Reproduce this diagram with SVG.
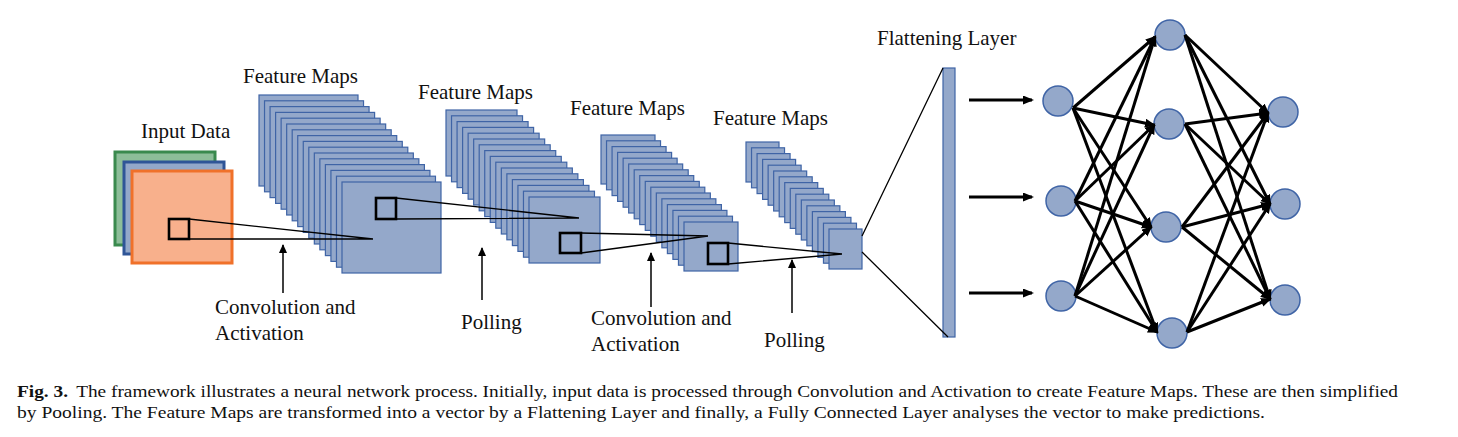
<svg xmlns="http://www.w3.org/2000/svg" xmlns:xlink="http://www.w3.org/1999/xlink" width="1458" height="437" viewBox="0 0 1458 437">
<style>
.lbl{font-family:"Liberation Serif","Times New Roman",serif;font-size:21px;fill:#111}
.cap{font-family:"Liberation Serif","Times New Roman",serif;font-size:16.5px;fill:#111}
.fm{fill:#94A8CA;stroke:#3F64A6;stroke-width:1.2}
.win{fill:none;stroke:#000;stroke-width:2.6}
.thin{stroke:#000;stroke-width:1.3;fill:none}
.up{stroke:#000;stroke-width:1.5;fill:none}
.nn{stroke:#000;stroke-width:3;fill:none}
.node{fill:#94A8CA;stroke:#3F64A6;stroke-width:1.5}
</style>
<defs>
<rect id="r1" class="fm" width="99" height="91"/>
<rect id="r2" class="fm" width="71" height="66"/>
<rect id="r3" class="fm" width="54" height="49"/>
<rect id="r4" class="fm" width="33" height="40"/>
<marker id="big" markerUnits="userSpaceOnUse" markerWidth="12" markerHeight="10" refX="9" refY="4.5" orient="auto">
<path d="M0,0 L11,4.5 L0,9 z" fill="#000"/>
</marker>
<marker id="sm" markerUnits="userSpaceOnUse" markerWidth="10" markerHeight="10" refX="8" refY="4" orient="auto">
<path d="M0,0 L9,4 L0,8 z" fill="#000"/>
</marker>
</defs>
<rect width="1458" height="437" fill="#fff"/>

<g id="input-data">
<rect x="115" y="152" width="100" height="93" fill="#8DBE99" stroke="#3A8A4E" stroke-width="3"/>
<rect x="124" y="162" width="100" height="92" fill="#93A8C9" stroke="#2F5597" stroke-width="3"/>
<rect x="132" y="171" width="100" height="92" fill="#F8B08C" stroke="#F0712A" stroke-width="3"/>
<rect class="win" x="169" y="219" width="20" height="20"/>
<text class="lbl" x="141" y="138">Input Data</text>
</g>

<g id="feature-maps-1">
<use href="#r1" x="259" y="95"/><use href="#r1" x="264.53" y="100.8"/><use href="#r1" x="270.07" y="106.6"/><use href="#r1" x="275.6" y="112.4"/>
<use href="#r1" x="281.13" y="118.2"/><use href="#r1" x="286.67" y="124"/><use href="#r1" x="292.2" y="129.8"/><use href="#r1" x="297.73" y="135.6"/>
<use href="#r1" x="303.27" y="141.4"/><use href="#r1" x="308.8" y="147.2"/><use href="#r1" x="314.33" y="153"/><use href="#r1" x="319.87" y="158.8"/>
<use href="#r1" x="325.4" y="164.6"/><use href="#r1" x="330.93" y="170.4"/><use href="#r1" x="336.47" y="176.2"/><use href="#r1" x="342" y="182"/>
<rect class="win" x="376" y="198" width="20" height="21"/>
<text class="lbl" x="243" y="83">Feature Maps</text>
</g>

<g id="feature-maps-2">
<use href="#r2" x="446" y="110"/><use href="#r2" x="451.53" y="115.8"/><use href="#r2" x="457.07" y="121.6"/><use href="#r2" x="462.6" y="127.4"/>
<use href="#r2" x="468.13" y="133.2"/><use href="#r2" x="473.67" y="139"/><use href="#r2" x="479.2" y="144.8"/><use href="#r2" x="484.73" y="150.6"/>
<use href="#r2" x="490.27" y="156.4"/><use href="#r2" x="495.8" y="162.2"/><use href="#r2" x="501.33" y="168"/><use href="#r2" x="506.87" y="173.8"/>
<use href="#r2" x="512.4" y="179.6"/><use href="#r2" x="517.93" y="185.4"/><use href="#r2" x="523.47" y="191.2"/><use href="#r2" x="529" y="197"/>
<rect class="win" x="560" y="233" width="21" height="20"/>
<text class="lbl" x="418" y="99">Feature Maps</text>
</g>

<g id="feature-maps-3">
<use href="#r3" x="601" y="135"/><use href="#r3" x="606.53" y="140.8"/><use href="#r3" x="612.07" y="146.6"/><use href="#r3" x="617.6" y="152.4"/>
<use href="#r3" x="623.13" y="158.2"/><use href="#r3" x="628.67" y="164"/><use href="#r3" x="634.2" y="169.8"/><use href="#r3" x="639.73" y="175.6"/>
<use href="#r3" x="645.27" y="181.4"/><use href="#r3" x="650.8" y="187.2"/><use href="#r3" x="656.33" y="193"/><use href="#r3" x="661.87" y="198.8"/>
<use href="#r3" x="667.4" y="204.6"/><use href="#r3" x="672.93" y="210.4"/><use href="#r3" x="678.47" y="216.2"/><use href="#r3" x="684" y="222"/>
<rect class="win" x="708" y="243" width="20" height="21"/>
<text class="lbl" x="570" y="115">Feature Maps</text>
</g>

<g id="feature-maps-4">
<use href="#r4" x="746" y="142"/><use href="#r4" x="751.53" y="147.8"/><use href="#r4" x="757.07" y="153.6"/><use href="#r4" x="762.6" y="159.4"/>
<use href="#r4" x="768.13" y="165.2"/><use href="#r4" x="773.67" y="171"/><use href="#r4" x="779.2" y="176.8"/><use href="#r4" x="784.73" y="182.6"/>
<use href="#r4" x="790.27" y="188.4"/><use href="#r4" x="795.8" y="194.2"/><use href="#r4" x="801.33" y="200"/><use href="#r4" x="806.87" y="205.8"/>
<use href="#r4" x="812.4" y="211.6"/><use href="#r4" x="817.93" y="217.4"/><use href="#r4" x="823.47" y="223.2"/><use href="#r4" x="829" y="229"/>
<text class="lbl" x="713" y="125">Feature Maps</text>
</g>

<g id="flattening-layer">
<rect class="fm" x="943" y="68" width="12" height="269"/>
<text class="lbl" x="877" y="45">Flattening Layer</text>
</g>

<g id="step-labels">
<text class="lbl" x="215" y="314">Convolution and</text>
<text class="lbl" x="215" y="340">Activation</text>
<text class="lbl" x="461" y="329">Polling</text>
<text class="lbl" x="591" y="325">Convolution and</text>
<text class="lbl" x="591" y="351">Activation</text>
<text class="lbl" x="764" y="347">Polling</text>
</g>

<g id="nodes">
<circle class="node" cx="1058" cy="101" r="15"/>
<circle class="node" cx="1061" cy="201" r="15"/>
<circle class="node" cx="1061" cy="296" r="15"/>
<circle class="node" cx="1170" cy="35" r="15"/>
<circle class="node" cx="1169" cy="124" r="15"/>
<circle class="node" cx="1166" cy="227" r="15"/>
<circle class="node" cx="1172" cy="333" r="15"/>
<circle class="node" cx="1283" cy="112" r="15"/>
<circle class="node" cx="1285" cy="204" r="15"/>
<circle class="node" cx="1285" cy="300" r="15"/>
</g>

<g id="connectors">
<path class="thin" d="M189,219 L373,239 M189,239 L373,239"/>
<path class="thin" d="M396,198 L579,218 M396,219 L579,218"/>
<path class="thin" d="M581,233 L708,236 M581,253 L708,236"/>
<path class="thin" d="M728,243 L842,254 M728,264 L842,254"/>
<path class="thin" d="M862,236 L943,68 M862,252 L948,337"/>
<line class="up" x1="283" y1="293" x2="283" y2="245" marker-end="url(#sm)"/>
<line class="up" x1="482" y1="300" x2="482" y2="248" marker-end="url(#sm)"/>
<line class="up" x1="651" y1="307" x2="651" y2="253" marker-end="url(#sm)"/>
<line class="up" x1="792" y1="313" x2="792" y2="260" marker-end="url(#sm)"/>
<line class="nn" x1="969" y1="100" x2="1032" y2="100" marker-end="url(#big)"/>
<line class="nn" x1="969" y1="197" x2="1032" y2="197" marker-end="url(#big)"/>
<line class="nn" x1="969" y1="293" x2="1032" y2="293" marker-end="url(#big)"/>
<line class="nn" x1="1073" y1="108" x2="1155" y2="37" marker-end="url(#big)"/>
<line class="nn" x1="1073" y1="108" x2="1154" y2="125" marker-end="url(#big)"/>
<line class="nn" x1="1073" y1="108" x2="1151" y2="227" marker-end="url(#big)"/>
<line class="nn" x1="1073" y1="108" x2="1157" y2="332" marker-end="url(#big)"/>
<line class="nn" x1="1075" y1="201" x2="1155" y2="37" marker-end="url(#big)"/>
<line class="nn" x1="1075" y1="201" x2="1154" y2="125" marker-end="url(#big)"/>
<line class="nn" x1="1075" y1="201" x2="1151" y2="227" marker-end="url(#big)"/>
<line class="nn" x1="1075" y1="201" x2="1157" y2="332" marker-end="url(#big)"/>
<line class="nn" x1="1075" y1="296" x2="1155" y2="37" marker-end="url(#big)"/>
<line class="nn" x1="1075" y1="296" x2="1154" y2="125" marker-end="url(#big)"/>
<line class="nn" x1="1075" y1="296" x2="1151" y2="227" marker-end="url(#big)"/>
<line class="nn" x1="1075" y1="296" x2="1157" y2="332" marker-end="url(#big)"/>
<line class="nn" x1="1185" y1="35" x2="1268" y2="113" marker-end="url(#big)"/>
<line class="nn" x1="1185" y1="35" x2="1270" y2="204" marker-end="url(#big)"/>
<line class="nn" x1="1185" y1="35" x2="1270" y2="299" marker-end="url(#big)"/>
<line class="nn" x1="1185" y1="124" x2="1268" y2="113" marker-end="url(#big)"/>
<line class="nn" x1="1185" y1="124" x2="1270" y2="204" marker-end="url(#big)"/>
<line class="nn" x1="1185" y1="124" x2="1270" y2="299" marker-end="url(#big)"/>
<line class="nn" x1="1182" y1="227" x2="1268" y2="113" marker-end="url(#big)"/>
<line class="nn" x1="1182" y1="227" x2="1270" y2="204" marker-end="url(#big)"/>
<line class="nn" x1="1182" y1="227" x2="1270" y2="299" marker-end="url(#big)"/>
<line class="nn" x1="1187" y1="332" x2="1268" y2="113" marker-end="url(#big)"/>
<line class="nn" x1="1187" y1="332" x2="1270" y2="204" marker-end="url(#big)"/>
<line class="nn" x1="1187" y1="332" x2="1270" y2="299" marker-end="url(#big)"/>
</g>

<g id="caption">
<text class="cap" x="17" y="397" textLength="1381" lengthAdjust="spacingAndGlyphs"><tspan font-weight="bold">Fig. 3.</tspan><tspan dx="7">The framework illustrates a neural network process. Initially, input data is processed through Convolution and Activation to create Feature Maps. These are then simplified</tspan></text>
<text class="cap" x="17" y="418" textLength="1248" lengthAdjust="spacingAndGlyphs">by Pooling. The Feature Maps are transformed into a vector by a Flattening Layer and finally, a Fully Connected Layer analyses the vector to make predictions.</text>
</g>
</svg>
